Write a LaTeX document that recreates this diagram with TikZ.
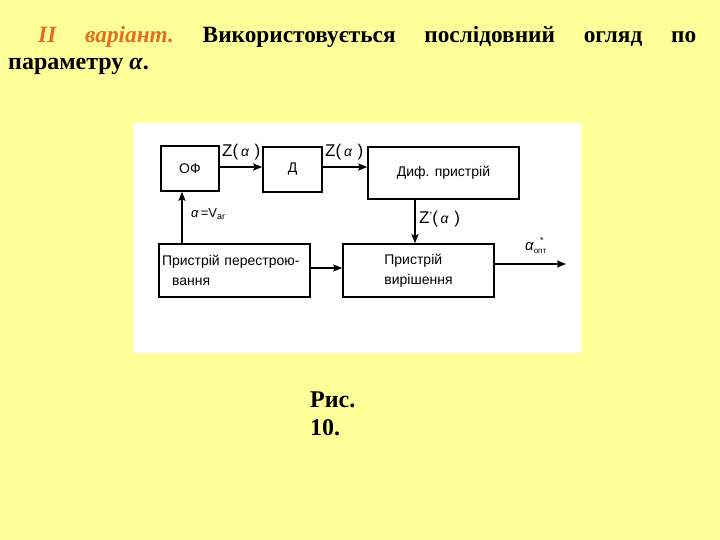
\documentclass[tikz,border=0pt]{standalone}
\usepackage{fontspec}
\setmainfont{Liberation Serif}
\newfontfamily\arialf{Liberation Sans}
\usetikzlibrary{arrows.meta}
\definecolor{yellowbg}{RGB}{255,255,153}
\definecolor{titleorange}{RGB}{226,110,30}
\begin{document}
\begin{tikzpicture}[x=1pt,y=-1pt,
  box/.style={draw,line width=1.5pt,inner sep=0pt,font=\arialf\fontsize{14}{20}\selectfont},
  conn/.style={line width=1.6pt,-{Stealth[length=9pt,width=7pt,inset=1.5pt]}},
  lbl/.style={inner sep=0pt,font=\arialf\fontsize{17}{17}\selectfont},
  slbl/.style={inner sep=0pt,font=\arialf\fontsize{13}{13}\selectfont},
  big/.style={inner sep=0pt,anchor=base west,font=\fontsize{24}{27}\selectfont\bfseries}]
\fill[yellowbg] (0,0) rectangle (720,540);
\useasboundingbox (0,0) rectangle (720,540);
\fill[white] (133,123) rectangle (581,353);
% title
\node[big,font=\fontsize{23.3}{27}\selectfont\bfseries] (title1) at (38,43)
  {\makebox[658pt][s]{{\color{titleorange}\itshape II\hfill варіант.}\hfill Використовується\hfill послідовний\hfill огляд\hfill по}};
\node[big] (title2) at (8,70) {параметру \textit{α}.};
% boxes
\node[box,minimum width=58pt,minimum height=45pt] (of) at (190,168.5) {ОФ};
\node[box,minimum width=59pt,minimum height=45pt] (d) at (292.5,169.5) {Д};
\node[box,minimum width=151pt,minimum height=52pt] (dif) at (443.5,173) {Диф. пристрій};
\node[box,minimum width=151pt,minimum height=53pt,text width=145pt,align=left] (per) at (234.5,270.5)
  {Пристрій перестрою-\\\hspace*{10pt}вання};
\node[box,minimum width=151pt,minimum height=53pt,align=left] (vyr) at (418.5,270.5)
  {Пристрій\\вирішення};
\coordinate (out) at (566,264);
% connectors
\draw[conn] (of.east |- 0,167) -- (d.west |- 0,167);
\draw[conn] (d.east |- 0,167) -- (dif.west |- 0,167);
\draw[conn] (dif.south -| 415,0) -- (vyr.north -| 415,0);
\draw[conn] (per.east |- 0,268) -- (vyr.west |- 0,268);
\draw[conn] (vyr.east |- out) -- (out);
\draw[conn] (per.north -| 182,0) -- (of.south -| 182,0);
% labels
\node[lbl,anchor=west] (z1) at (222,152) {Z(\,{\fontsize{14}{14}\selectfont\itshape α}\,\,)};
\node[lbl,anchor=west] (z2) at (325,152) {Z(\,{\fontsize{14}{14}\selectfont\itshape α}\,\,)};
\node[lbl,anchor=west] (z3) at (419,219) {Z\raisebox{3pt}{\fontsize{12}{12}\selectfont’}(\,{\fontsize{14}{14}\selectfont\itshape α}\,\,)};
\node[slbl,anchor=west] (av) at (191,214) {{\itshape α}\,=V\raisebox{-2pt}{\fontsize{9}{9}\selectfont ar}};
\node[slbl,anchor=west] (aopt) at (525,245) {{\fontsize{15}{15}\selectfont\itshape α}\raisebox{-3pt}{\fontsize{8}{8}\selectfont опт}\hspace*{-6pt}\raisebox{7pt}{\fontsize{9}{9}\selectfont *}};
% caption
\node[big] (cap1) at (310,407) {Рис.};
\node[big] (cap2) at (310,435) {10.};
\end{tikzpicture}
\end{document}
